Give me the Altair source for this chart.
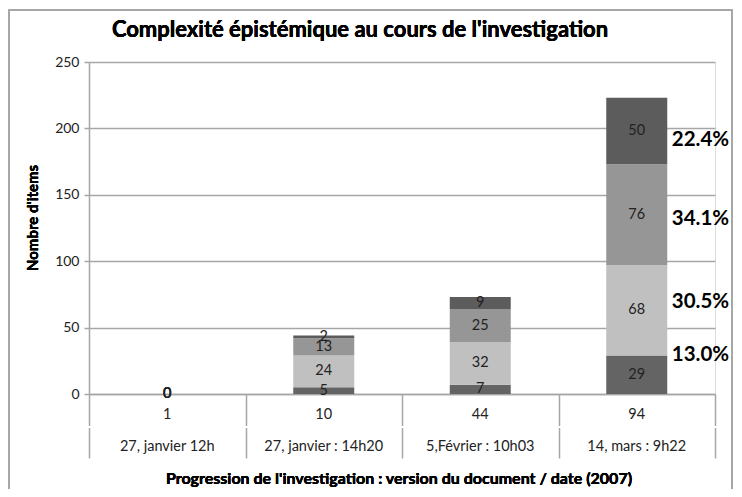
import altair as alt
import pandas as pd

versions = ["1", "10", "44", "94"]
dates = ["27, janvier 12h", "27, janvier : 14h20", "5,Février : 10h03", "14, mars : 9h22"]
series = ["Niveau 1", "Niveau 2", "Niveau 3", "Niveau 4"]
s1 = [0, 5, 7, 29]
s2 = [0, 24, 32, 68]
s3 = [0, 13, 25, 76]
s4 = [0, 2, 9, 50]
colors = ["#646464", "#c0c0c0", "#969696", "#5c5c5c"]

pct_labels = ["13.0%", "30.5%", "34.1%", "22.4%"]
pct_anchor = [29.4, 69.3, 131.8, 191.3]  # label anchors (data units) beside last bar

title = "Complexité épistémique au cours de l'investigation"
y_title = "Nombre d'items"
x_title = "Progression de l'investigation : version du document / date (2007)"

FONT = "Lato"
GRID = "#a6a6a6"
W, H = 626, 332

rows = []
for si, (name, vals) in enumerate(zip(series, [s1, s2, s3, s4])):
    for v, d, val in zip(versions, dates, vals):
        rows.append({"version": v, "date": d, "series": name, "order": si, "value": val})
df = pd.DataFrame(rows)
cats = pd.DataFrame({"version": versions, "date": dates})
pct = pd.DataFrame({"version": ["94"] * 4, "label": pct_labels, "anchor": pct_anchor})

xenc = alt.X("version:N", sort=versions,
             scale=alt.Scale(paddingInner=0, paddingOuter=0),
             axis=alt.Axis(title=None, labels=False, tickBand="extent", tickSize=64,
                           tickColor=GRID, domainColor=GRID, tickWidth=1.5, domainWidth=1.5,
                           grid=False))
yscale = alt.Scale(domain=[0, 250], nice=False)

base = alt.Chart(df)

frame = alt.Chart(cats).mark_rect(fill=None, stroke="#a6a6a6", strokeWidth=1.5).encode(
    x=alt.value(-80), x2=alt.value(643), y=alt.value(-52), y2=alt.value(460))

bars = base.mark_bar(width=61).encode(
    x=xenc,
    y=alt.Y("value:Q", stack="zero", scale=yscale,
            axis=alt.Axis(title=None, values=[0, 50, 100, 150, 200, 250], grid=True,
                          gridColor=GRID, gridWidth=1.5, domainColor=GRID, domainWidth=1.5,
                          tickColor=GRID, tickWidth=1.5, tickSize=5, labelFontSize=14,
                          labelFont=FONT, labelColor="#222", labelPadding=5)),
    color=alt.Color("series:N", scale=alt.Scale(domain=series, range=colors), legend=None),
    order=alt.Order("order:Q"),
)

seg_labels = base.transform_window(
    cum="sum(value)", sort=[alt.SortField("order")], groupby=["version"], frame=[None, 0]
).transform_calculate(mid="datum.cum - datum.value / 2").mark_text(
    font=FONT, fontSize=14.5, color="#222"
).encode(
    x=alt.X("version:N", sort=versions),
    y=alt.Y("mid:Q", scale=yscale),
    text="value:Q",
)

gap = alt.Chart(cats).mark_rule(color="white", strokeWidth=2).encode(
    x=alt.value(-3), x2=alt.value(630), y=alt.value(H + 33))

ver_labels = alt.Chart(cats).mark_text(font=FONT, fontSize=14.5, color="#222").encode(
    x=alt.X("version:N", sort=versions), y=alt.value(H + 21), text="version:N")
date_labels = alt.Chart(cats).mark_text(font=FONT, fontSize=14.5, color="#222").encode(
    x=alt.X("version:N", sort=versions), y=alt.value(H + 53), text="date:N")

pct_text = alt.Chart(pct).mark_text(font=FONT, fontSize=20.5, fontWeight="bold", align="left",
                                    dx=35, color="#000").encode(
    x=alt.X("version:N", sort=versions), y=alt.Y("anchor:Q", scale=yscale), text="label:N")

title_t = alt.Chart(cats).mark_text(font=FONT, fontSize=22, fontWeight="bold", color="#000").encode(
    x=alt.value(271), y=alt.value(-32), text=alt.value(title))
ytitle_t = alt.Chart(cats).mark_text(font=FONT, fontSize=15, fontWeight="bold", angle=270,
                                     color="#000").encode(
    x=alt.value(-56), y=alt.value(156), text=alt.value(y_title))
xtitle_t = alt.Chart(cats).mark_text(font=FONT, fontSize=16, fontWeight="bold", color="#000").encode(
    x=alt.value(310), y=alt.value(417), text=alt.value(x_title))

chart = alt.layer(frame, bars, seg_labels, gap, ver_labels, date_labels, pct_text,
                  title_t, ytitle_t, xtitle_t).properties(
    width=W, height=H,
    autosize=alt.AutoSizeParams(type="none"),
    padding={"left": 81, "top": 54, "right": 19, "bottom": 95},
).configure_view(stroke=None).configure(background="white")

chart.save("out.html", embed_options={"renderer": "svg", "actions": False})
